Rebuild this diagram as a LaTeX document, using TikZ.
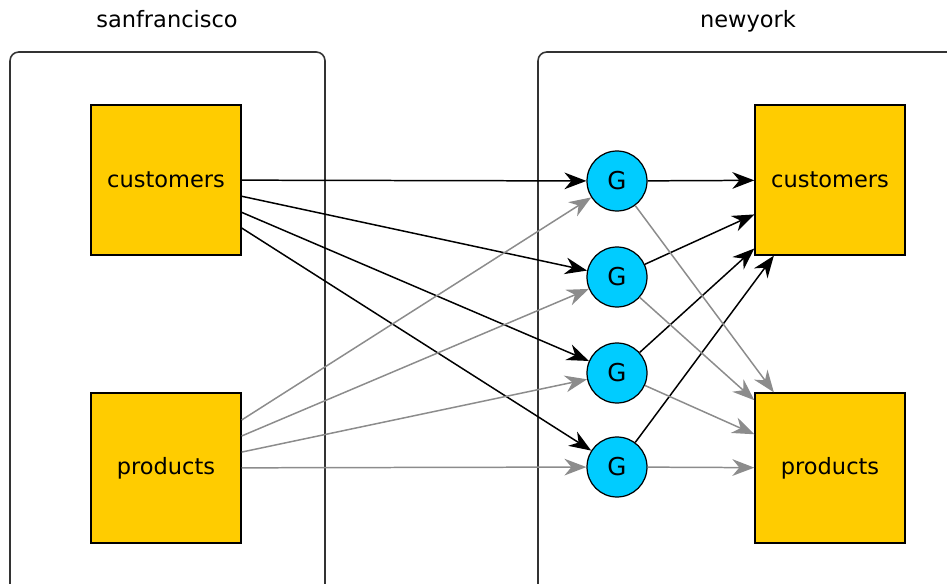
\documentclass[tikz,border=0pt]{standalone}
\usepackage{fontspec}
\setmainfont{DejaVu Sans}
\usepackage{xcolor}
\usetikzlibrary{arrows.meta}

\definecolor{tableyellow}{RGB}{255,204,0}
\definecolor{gencyan}{RGB}{0,204,255}
\definecolor{softgray}{RGB}{140,140,140}

\begin{document}
\begin{tikzpicture}[x=0.02cm,y=-0.02cm,>={Stealth[length=12.5pt,width=9.5pt,inset=4pt]},
  every node/.style={font=\fontsize{12.8}{15}\selectfont},
  cluster/.style={draw=black!80,line width=0.9pt,rounded corners=5pt},
  table/.style={draw=black,line width=0.8pt,fill=tableyellow,minimum size=3cm,inner sep=0pt},
  gen/.style={circle,draw=black,line width=0.7pt,fill=gencyan,minimum size=1.2cm,inner sep=0pt},
  main/.style={->,black,line width=0.85pt},
  side/.style={->,softgray,line width=0.85pt}]
  \useasboundingbox (0,0) rectangle (947,584);

  % clusters
  \draw[cluster] (10,600) |- (325,52) -- (325,600);
  \draw[cluster] (538,600) |- (970,52);
  \node[anchor=base] (sflabel) at (167,28) {sanfrancisco};
  \node[anchor=base] (nylabel) at (748,28) {newyork};

  % tables
  \node[table] (sfcust) at (166,180) {customers};
  \node[table] (sfprod) at (166,468) {products};
  \node[table] (nycust) at (830,180) {customers};
  \node[table] (nyprod) at (830,468) {products};

  % generators
  \node[gen,font=\fontsize{14}{16}\selectfont] (g1) at (617,181) {G};
  \node[gen,font=\fontsize{14}{16}\selectfont] (g2) at (617,277) {G};
  \node[gen,font=\fontsize{14}{16}\selectfont] (g3) at (617,373) {G};
  \node[gen,font=\fontsize{14}{16}\selectfont] (g4) at (617,467) {G};

  \draw[main] (sfcust) -- (g1);
  \draw[main] (sfcust) -- (g2);
  \draw[main] (sfcust) -- (g3);
  \draw[main] (sfcust) -- (g4);
  \draw[side] (sfprod) -- (g1);
  \draw[side] (sfprod) -- (g2);
  \draw[side] (sfprod) -- (g3);
  \draw[side] (sfprod) -- (g4);

  \draw[main] (g1) -- (nycust);
  \draw[main] (g2) -- (nycust);
  \draw[main] (g3) -- (nycust);
  \draw[main] (g4) -- (nycust);
  \draw[side] (g1) -- (nyprod);
  \draw[side] (g2) -- (nyprod);
  \draw[side] (g3) -- (nyprod);
  \draw[side] (g4) -- (nyprod);
\end{tikzpicture}
\end{document}
